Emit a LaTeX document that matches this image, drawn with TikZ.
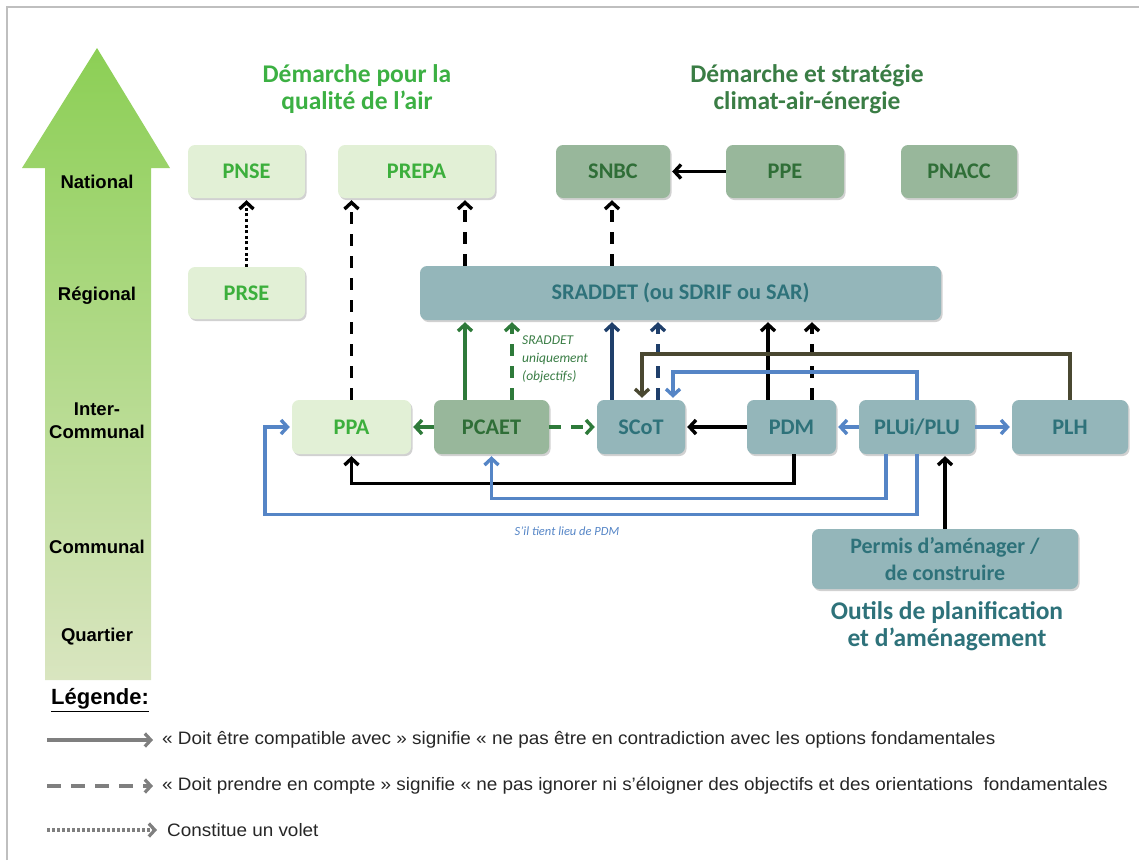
\documentclass[tikz,border=0pt]{standalone}
\usepackage{fontspec}
\setmainfont{Carlito}
\newfontfamily\arial{Liberation Sans}
\newfontfamily\legfont[FakeStretch=1.05]{Liberation Sans}
\usetikzlibrary{arrows.meta,shadows,calc}
\definecolor{lgfill}{HTML}{E2F0D6}
\definecolor{lgtext}{HTML}{3CAF3C}
\definecolor{gfill}{HTML}{98B79B}
\definecolor{gtext}{HTML}{2F6E37}
\definecolor{tfill}{HTML}{94B6BA}
\definecolor{ttext}{HTML}{2E727A}
\definecolor{titlegreen}{HTML}{3CB043}
\definecolor{titledark}{HTML}{3A7D45}
\definecolor{agreen}{HTML}{2E7A3A}
\definecolor{anavy}{HTML}{1F3F6B}
\definecolor{aolive}{HTML}{4A4831}
\definecolor{ablue}{HTML}{5585C6}
\definecolor{framegrey}{HTML}{BFBFBF}
\definecolor{leggrey}{HTML}{7F7F7F}
\definecolor{legtext}{HTML}{262626}
\definecolor{arrtop}{HTML}{8CCF55}
\definecolor{arrmid}{HTML}{B5D993}
\definecolor{arrbot}{HTML}{D9E5C0}
\begin{document}
\begin{tikzpicture}[x=1pt,y=-1pt,
  box/.style={rounded corners=7pt, inner sep=0pt, align=center,
    font=\bfseries\fontsize{22.3}{26}\selectfont,
    drop shadow={shadow xshift=1.5pt,shadow yshift=-2pt,opacity=0.3,fill=black!60}},
  lightbox/.style={box, fill=lgfill, text=lgtext},
  greenbox/.style={box, fill=gfill, text=gtext},
  tealbox/.style={box, fill=tfill, text=ttext},
  lvl/.style={font=\arial\bfseries\fontsize{18.5}{23}\selectfont, align=center, inner sep=0pt},
  ttl/.style={font=\bfseries\fontsize{25.5}{27}\selectfont, align=center, inner sep=0pt},
  arr/.style={line width=3.4pt, -{Straight Barb[length=6.5pt,width=14pt]}, shorten >=2pt},
  dsh/.style={dash pattern=on 12pt off 10pt},
  dotd/.style={dash pattern=on 3pt off 2.6pt},
  legarr/.style={line width=3.2pt, leggrey, -{Straight Barb[length=6pt,width=13pt]}},
  legtxt/.style={font=\legfont\fontsize{18}{20}\selectfont, text=legtext, anchor=west, inner sep=0pt}
]
\useasboundingbox (0,0) rectangle (1139,860);
% frame
\draw[framegrey, line width=1.5pt] (7,860) -- (7,7) -- (1139,7);
% big arrow
\shade[top color=arrtop, middle color=arrmid, bottom color=arrbot]
  (97,48) -- (170,168) -- (151,168) -- (151,680) -- (45,680) -- (45,168) -- (22,168) -- cycle;
\node[lvl] (nat) at (97,182) {National};
\node[lvl] (reg) at (97,296) {Régional};
\node[lvl] (inter) at (97,421) {Inter-\\Communal};
\node[lvl] (com) at (97,547) {Communal};
\node[lvl] (quart) at (97,637) {Quartier};
% titles
\node[ttl, text=titlegreen] (t1) at (357,89) {Démarche pour la\\qualité de l’air};
\node[ttl, text=titledark] (t2) at (807,89) {Démarche et stratégie\\climat-air-énergie};
\node[ttl, text=ttext] (t3) at (947,626) {Outils de planification\\et d’aménagement};
% boxes
\node[lightbox, minimum width=117pt, minimum height=53pt] (pnse) at (246.5,171.5) {PNSE};
\node[lightbox, minimum width=157pt, minimum height=53pt] (prepa) at (416.5,171.5) {PREPA};
\node[greenbox, minimum width=114pt, minimum height=53pt] (snbc) at (613,171.5) {SNBC};
\node[greenbox, minimum width=118pt, minimum height=53pt] (ppe) at (785,171.5) {PPE};
\node[greenbox, minimum width=116pt, minimum height=53pt] (pnacc) at (959,171.5) {PNACC};
\node[lightbox, minimum width=117pt, minimum height=52pt] (prse) at (246.5,293) {PRSE};
\node[tealbox, minimum width=521pt, minimum height=54pt] (srad) at (680.5,293) {SRADDET (ou SDRIF ou SAR)};
\node[lightbox, minimum width=119pt, minimum height=54pt] (ppa) at (351.5,427) {PPA};
\node[greenbox, minimum width=115pt, minimum height=54pt] (pcaet) at (491.5,427) {PCAET};
\node[tealbox, minimum width=88pt, minimum height=54pt] (scot) at (641,427) {SCoT};
\node[tealbox, minimum width=89pt, minimum height=54pt] (pdm) at (791.5,427) {PDM};
\node[tealbox, minimum width=116pt, minimum height=54pt] (plu) at (917,427) {PLUi/PLU};
\node[tealbox, minimum width=116pt, minimum height=54pt] (plh) at (1070,427) {PLH};
\node[tealbox, minimum width=266pt, minimum height=60pt, font=\bfseries\fontsize{22}{27}\selectfont] (permis) at (945,559) {Permis d’aménager /\\de construire};
% column coordinates
\coordinate (c465) at (465,0);
\coordinate (c512) at (512,0);
\coordinate (c612) at (612,0);
\coordinate (c658) at (658,0);
\coordinate (c642) at (642,0);
\coordinate (c673) at (673,0);
\coordinate (c768) at (768,0);
\coordinate (c812) at (812,0);
\coordinate (c794) at (794,0);
\coordinate (c886) at (886,0);
\coordinate (c265) at (265,0);
% national / regional arrows
\draw[arr, dotd] (prse.north) -- (pnse.south);
\draw[arr, dsh] (ppa.north) -- (ppa.north |- prepa.south);
\draw[arr, dsh] (c465 |- srad.north) -- (c465 |- prepa.south);
\draw[arr, dsh] (c612 |- srad.north) -- (c612 |- snbc.south);
\draw[arr] (ppe.west) -- (snbc.east);
% to SRADDET
\draw[arr, agreen] (c465 |- pcaet.north) -- (c465 |- srad.south);
\draw[arr, agreen, dsh] (c512 |- pcaet.north) -- (c512 |- srad.south);
\node[font=\itshape\fontsize{13.5}{18}\selectfont, text=titledark, align=left, anchor=north west, inner sep=0pt] (lblsr) at (522,336) {SRADDET\\uniquement\\(objectifs)};
\draw[arr, anavy] (c612 |- scot.north) -- (c612 |- srad.south);
\draw[arr, anavy, dsh] (c658 |- scot.north) -- (c658 |- srad.south);
\draw[arr] (c768 |- pdm.north) -- (c768 |- srad.south);
\draw[arr, dsh] (c812 |- pdm.north) -- (c812 |- srad.south);
% to SCoT from top
\draw[arr, aolive] (plh.north) -- ++(0,-46) -| (c642 |- scot.north);
\draw[arr, ablue] (plu.north) -- ++(0,-28) -| (c673 |- scot.north);
% row arrows
\draw[arr, agreen] (pcaet.west) -- (ppa.east);
\draw[arr, agreen, dsh] (pcaet.east) -- (scot.west);
\draw[arr] (pdm.west) -- (scot.east);
\draw[arr, ablue] (plu.west) -- (pdm.east);
\draw[arr, ablue] (plu.east) -- (plh.west);
% bottom loops
\draw[arr] (c794 |- pdm.south) -- ++(0,29) -| (ppa.south);
\draw[arr, ablue] (c886 |- plu.south) -- ++(0,44) -| (pcaet.south);
\draw[arr, ablue] (plu.south) -- ++(0,60) -| (c265 |- ppa.west) -- (ppa.west);
\node[font=\itshape\fontsize{12.5}{15}\selectfont, text=ablue, inner sep=0pt] (lblpdm) at (567,531) {S’il tient lieu de PDM};
\draw[arr] (permis.north) -- (plu.south -| permis.north);
% legend
\node[font=\arial\bfseries\fontsize{22}{24}\selectfont, anchor=west, inner sep=0pt, text=black] (leg) at (51,700) {\underline{Légende:}};
\coordinate (l1a) at (47,740); \coordinate (l1b) at (153,740);
\coordinate (l2a) at (47,786); \coordinate (l2b) at (153,786);
\coordinate (l3a) at (47,830); \coordinate (l3b) at (157,830);
\draw[legarr] (l1a) -- (l1b);
\draw[legarr, dash pattern=on 14pt off 10pt] (l2a) -- (l2b);
\draw[legarr, dash pattern=on 2.6pt off 2.4pt] (l3a) -- (l3b);
\node[legtxt] (leg1) at (162,740) {« Doit être compatible avec » signifie « ne pas être en contradiction avec les options fondamentales};
\node[legtxt] (leg2) at (162,786) {« Doit prendre en compte » signifie « ne pas ignorer ni s’éloigner des objectifs et des orientations\ \ fondamentales};
\node[legtxt] (leg3) at (167,830) {Constitue un volet};
\end{tikzpicture}
\end{document}
